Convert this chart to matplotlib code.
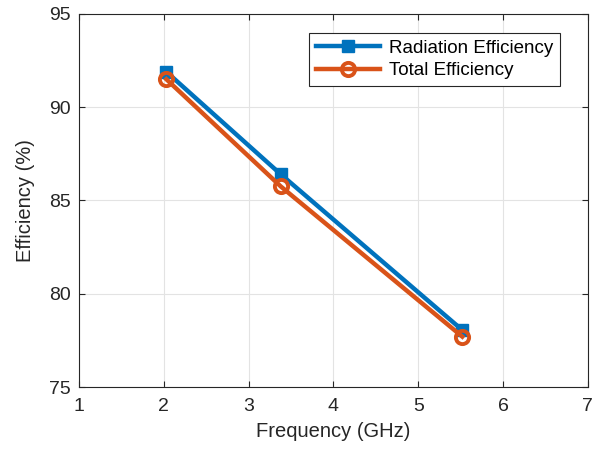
import matplotlib.pyplot as plt

plt.rcParams['font.family'] = ['Liberation Sans', 'DejaVu Sans']

# Data
freq = [2.03, 3.38, 5.52]
radiation_eff = [91.9, 86.4, 78.05]
total_eff = [91.5, 85.75, 77.7]

fig = plt.figure(figsize=(5.92, 4.5), dpi=100)
ax = fig.add_axes([0.1334, 0.14, 0.8596, 0.829])

ax.plot(freq, radiation_eff, color='#0072BD', lw=3.2, marker='s', ms=8,
        mfc='#0072BD', mec='#0072BD', label='Radiation Efficiency')
ax.plot(freq, total_eff, color='#D95319', lw=3.2, marker='o', ms=9.5,
        mfc='none', mec='#D95319', mew=2.8, label='Total Efficiency')

ax.set_xlim(1, 7)
ax.set_ylim(75, 95)
ax.set_xticks(range(1, 8))
ax.set_yticks(range(75, 96, 5))
ax.grid(True, color='#e3e3e3', lw=0.8)
ax.set_axisbelow(True)
ax.tick_params(direction='in', labelsize=14, length=4, top=True, right=True,
               color='#262626', labelcolor='#262626')
ax.tick_params(axis='x', pad=8)
ax.tick_params(axis='y', pad=6)
for s in ax.spines.values():
    s.set_color('#262626')
    s.set_linewidth(0.8)

ax.set_xlabel('Frequency (GHz)', fontsize=14.5, color='#262626', labelpad=5)
ax.set_ylabel('Efficiency (%)', fontsize=14.5, color='#262626', labelpad=10)

leg = ax.legend(loc='upper right', bbox_to_anchor=(0.945, 0.949), fontsize=13.5,
                fancybox=False, edgecolor='#262626', framealpha=1,
                handlelength=3.4, borderpad=0.35, labelspacing=0.3,
                handletextpad=0.5, borderaxespad=0)
leg.get_frame().set_linewidth(0.8)

plt.savefig('out.png', dpi=100)
